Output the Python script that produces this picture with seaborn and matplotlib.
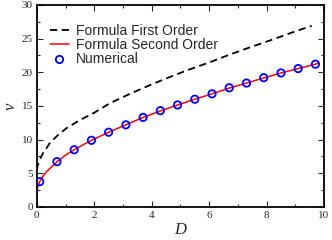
import numpy as np
import pandas as pd
import matplotlib
matplotlib.use('Agg')
import matplotlib.pyplot as plt
import matplotlib.ticker as ticker
import seaborn as sns

# curva de primeira ordem
d_first = [0.0, 0.03, 0.1, 0.2, 0.3, 0.45, 0.74, 1.03, 1.5, 2.0, 2.54, 3.24, 3.94, 4.63, 5.3, 6.03, 6.7, 7.42, 8.1, 8.82, 9.57]
v_first = [5.5, 6.2, 7.0, 7.9, 8.5, 9.5, 10.7, 11.7, 12.9, 14.0, 15.4, 16.8, 18.1, 19.3, 20.4, 21.5, 22.6, 23.7, 24.7, 25.8, 26.9]

# curva de segunda ordem
d_second = [0.0, 0.03, 0.1, 0.2, 0.35, 0.5, 0.7, 1.0, 1.3, 1.6, 1.9, 2.5, 3.1, 3.7, 4.3, 4.9, 5.5, 6.1, 6.7, 7.3, 7.9, 8.5, 9.1, 9.7, 9.8]
v_second = [2.3, 3.0, 3.8, 4.5, 5.3, 5.9, 6.7, 7.7, 8.5, 9.2, 9.9, 11.1, 12.2, 13.3, 14.25, 15.15, 16.0, 16.8, 17.65, 18.4, 19.15, 19.9, 20.55, 21.2, 21.35]

# pontos numéricos
d_num = [0.1, 0.7, 1.3, 1.9, 2.5, 3.1, 3.7, 4.3, 4.9, 5.5, 6.1, 6.7, 7.3, 7.9, 8.5, 9.1, 9.7]
v_num = [3.76, 6.73, 8.5, 9.9, 11.1, 12.2, 13.3, 14.3, 15.15, 16.0, 16.8, 17.7, 18.4, 19.2, 19.9, 20.55, 21.2]

df1 = pd.DataFrame({'D': d_first, 'v': v_first})
df2 = pd.DataFrame({'D': d_second, 'v': v_second})
dfn = pd.DataFrame({'D': d_num, 'v': v_num})

sns.set_style('ticks')
plt.rcParams['font.family'] = ['Liberation Serif', 'DejaVu Serif']

fig = plt.figure(figsize=(3.32, 2.4), dpi=100)
ax = fig.add_axes([0.111, 0.1375, 0.865, 0.842])

sns.lineplot(data=df1, x='D', y='v', ax=ax, color='black', linestyle=(0, (4, 2.5)), lw=1.3,
             label='Formula First Order')
sns.lineplot(data=df2, x='D', y='v', ax=ax, color='red', lw=1.1, label='Formula Second Order')
sns.scatterplot(data=dfn, x='D', y='v', ax=ax, marker='o', s=28, facecolor='none',
                edgecolor='blue', linewidth=1.3, label='Numerical', zorder=3)

ax.set_xlim(0, 10)
ax.set_ylim(0, 30)
ax.xaxis.set_major_locator(ticker.MultipleLocator(2))
ax.xaxis.set_minor_locator(ticker.MultipleLocator(1))
ax.yaxis.set_major_locator(ticker.MultipleLocator(5))
ax.yaxis.set_minor_locator(ticker.MultipleLocator(2.5))
ax.tick_params(which='both', direction='in', top=True, right=True, labelsize=8, pad=3)
ax.tick_params(which='major', length=4, width=0.8)
ax.tick_params(which='minor', length=2, width=0.8)
for s in ax.spines.values():
    s.set_linewidth(1.3)
    s.set_color('black')

ax.set_xlabel('D', fontsize=12, style='italic', labelpad=1)
ax.set_ylabel('v', fontsize=12, style='italic', labelpad=2, rotation=90)

leg = ax.legend(loc='upper left', frameon=False, prop={'family': 'Liberation Sans', 'size': 10},
                handlelength=1.4, handletextpad=0.5, labelspacing=0.0,
                borderpad=0, borderaxespad=0, bbox_to_anchor=(0.045, 0.905))

plt.savefig('out.png', dpi=100)
